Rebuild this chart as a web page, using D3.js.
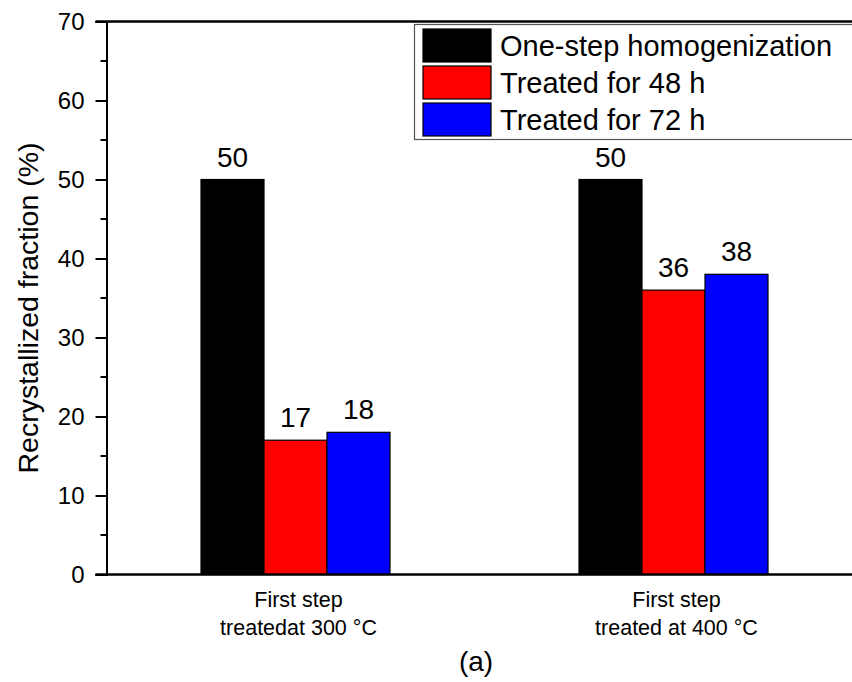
<!DOCTYPE html>
<html>
<head>
<meta charset="utf-8">
<script src="https://cdn.jsdelivr.net/npm/d3@7"></script>
<style>
  html, body { margin: 0; padding: 0; background: #fff; }
  svg { display: block; font-family: Arial, "Liberation Sans", sans-serif; }
</style>
</head>
<body>
<svg id="chart" width="852" height="682"></svg>
<script>
// Groups (x positions 1 and 2 on the axis) and their two-line labels
const groups = [1, 2];
const groupLabels = [["First step", "treatedat 300 \u00B0C"], ["First step", "treated at 400 \u00B0C"]];

// Series
const seriesNames = ["One-step homogenization", "Treated for 48 h", "Treated for 72 h"];
const seriesColors = ["#000000", "#ff0000", "#0000ff"];
const oneStep = [50, 50];
const treated48 = [17, 36];
const treated72 = [18, 38];
const seriesValues = [oneStep, treated48, treated72];

const yTicks = [0, 10, 20, 30, 40, 50, 60, 70];
const yMinorTicks = [5, 15, 25, 35, 45, 55, 65];

const svg = d3.select("#chart");

const x = d3.scaleLinear().domain([0.5, 2.5]).range([106.5, 862.5]);
const y = d3.scaleLinear().domain([0, 70]).range([574.5, 21.5]);
const sub = d3.scaleBand().domain(d3.range(seriesNames.length)).range([-0.25, 0.25]);

// Bars
seriesValues.forEach((vals, s) => {
  svg.append("g").selectAll("rect")
    .data(vals)
    .join("rect")
    .attr("x", (d, i) => x(groups[i] + sub(s)))
    .attr("width", (d, i) => x(groups[i] + sub(s) + sub.bandwidth()) - x(groups[i] + sub(s)))
    .attr("y", d => y(d))
    .attr("height", d => y(0) - y(d))
    .attr("fill", seriesColors[s])
    .attr("stroke", "#000")
    .attr("stroke-width", 1.2);

  svg.append("g").selectAll("text")
    .data(vals)
    .join("text")
    .attr("x", (d, i) => x(groups[i] + sub(s) + sub.bandwidth() / 2))
    .attr("y", d => y(d) - 13)
    .attr("text-anchor", "middle")
    .attr("font-size", 28)
    .attr("fill", "#000")
    .text(d => d);
});

// Y axis with major and minor ticks
const yAxis = svg.append("g")
  .attr("transform", `translate(${x(0.5)},0)`)
  .call(d3.axisLeft(y).tickValues(yTicks).tickSize(11).tickPadding(11).tickFormat(d3.format("d")));
yAxis.selectAll("text").attr("font-size", 24).attr("fill", "#000");
yAxis.select(".domain").attr("stroke-width", 2);
yAxis.selectAll(".tick line").attr("stroke-width", 2);

svg.append("g")
  .attr("transform", `translate(${x(0.5)},0)`)
  .selectAll("line")
  .data(yMinorTicks)
  .join("line")
  .attr("x1", -6).attr("x2", 0)
  .attr("y1", d => y(d)).attr("y2", d => y(d))
  .attr("stroke", "#000").attr("stroke-width", 2);

// Bottom and top frame lines
svg.append("line")
  .attr("x1", x(0.5) - 11).attr("x2", 852)
  .attr("y1", y(0)).attr("y2", y(0))
  .attr("stroke", "#000").attr("stroke-width", 2.5);
svg.append("line")
  .attr("x1", x(0.5) - 11).attr("x2", 852)
  .attr("y1", y(70)).attr("y2", y(70))
  .attr("stroke", "#000").attr("stroke-width", 2.5);

// Category labels
groupLabels.forEach((lines, i) => {
  const cx = x(groups[i]) + 3;
  const t = svg.append("text")
    .attr("x", cx)
    .attr("y", 607)
    .attr("text-anchor", "middle")
    .attr("font-size", 21.5)
    .attr("fill", "#000");
  lines.forEach((ln, j) => {
    t.append("tspan").attr("x", cx).attr("dy", j === 0 ? 0 : 28).text(ln);
  });
});

// Y-axis title
svg.append("text")
  .attr("transform", `translate(38,${(y(0) + y(70)) / 2 + 10}) rotate(-90)`)
  .attr("text-anchor", "middle")
  .attr("font-size", 28.5)
  .attr("fill", "#000")
  .text("Recrystallized fraction (%)");

// Panel label
svg.append("text")
  .attr("x", 476).attr("y", 671)
  .attr("text-anchor", "middle")
  .attr("font-size", 28)
  .attr("fill", "#000")
  .text("(a)");

// Legend
const legend = svg.append("g");
legend.append("rect")
  .attr("x", 414.5).attr("y", 24.5)
  .attr("width", 460).attr("height", 115)
  .attr("fill", "#fff").attr("stroke", "#555").attr("stroke-width", 1.2);
seriesNames.forEach((name, s) => {
  legend.append("rect")
    .attr("x", 423).attr("y", 29 + s * 37)
    .attr("width", 68).attr("height", 33)
    .attr("fill", seriesColors[s]).attr("stroke", "#000").attr("stroke-width", 1.2);
  legend.append("text")
    .attr("x", 500).attr("y", 56 + s * 37)
    .attr("font-size", 29)
    .attr("fill", "#000")
    .text(name);
});
</script>
</body>
</html>
